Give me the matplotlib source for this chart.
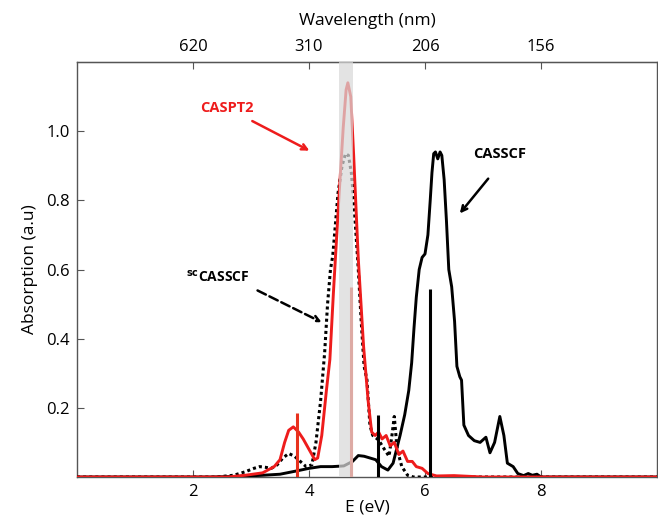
import numpy as np
import matplotlib
import matplotlib.pyplot as plt

matplotlib.use('Agg')
plt.rcParams['font.family'] = ['Open Sans', 'DejaVu Sans']

# CASSCF spectrum (black solid)
casscf_e = [0, 2.3, 2.8, 3.2, 3.5, 3.8, 4.0, 4.2, 4.4, 4.6, 4.75, 4.85, 4.95, 5.05,
            5.15, 5.25, 5.36, 5.45, 5.57, 5.65, 5.72, 5.77, 5.81, 5.85, 5.9, 5.95, 6.0, 6.05,
            6.09, 6.12, 6.15, 6.18, 6.22, 6.26, 6.29, 6.33, 6.37, 6.41, 6.46, 6.51, 6.55,
            6.6, 6.63, 6.67, 6.75, 6.85, 6.95, 7.05, 7.12, 7.2, 7.29, 7.36, 7.42, 7.52,
            7.6, 7.7, 7.78, 7.85, 7.93, 8.0, 10]
casscf_a = [0, 0, 0.002, 0.005, 0.008, 0.018, 0.025, 0.03, 0.03, 0.032, 0.045, 0.062, 0.06, 0.055,
            0.05, 0.03, 0.02, 0.04, 0.12, 0.18, 0.25, 0.33, 0.43, 0.52, 0.6, 0.635, 0.645, 0.7,
            0.8, 0.88, 0.935, 0.94, 0.92, 0.94, 0.93, 0.86, 0.74, 0.6, 0.55, 0.45, 0.32,
            0.29, 0.28, 0.15, 0.12, 0.105, 0.1, 0.115, 0.07, 0.1, 0.175, 0.12, 0.04, 0.03,
            0.01, 0.004, 0.01, 0.005, 0.008, 0, 0]

# CASPT2 spectrum (red)
caspt2_e = [0, 2.6, 2.9, 3.2, 3.4, 3.5, 3.58, 3.65, 3.73, 3.82, 3.9, 4.0, 4.1, 4.15,
            4.22, 4.3, 4.36, 4.42, 4.52, 4.59, 4.64, 4.67, 4.72, 4.77, 4.85, 4.94, 5.02,
            5.08, 5.14, 5.2, 5.26, 5.33, 5.4, 5.47, 5.55, 5.62, 5.7, 5.78, 5.85, 5.95,
            6.05, 6.2, 6.5, 7, 10]
caspt2_a = [0, 0, 0.005, 0.012, 0.03, 0.05, 0.1, 0.135, 0.145, 0.13, 0.11, 0.08, 0.05, 0.055,
            0.12, 0.25, 0.34, 0.53, 0.82, 1.01, 1.12, 1.14, 1.1, 0.93, 0.63, 0.38, 0.22,
            0.13, 0.12, 0.13, 0.11, 0.12, 0.09, 0.1, 0.065, 0.075, 0.045, 0.045, 0.03, 0.025,
            0.01, 0.003, 0.004, 0, 0]

# scCASSCF spectrum (black dotted)
sc_e = [0, 2.4, 2.7, 2.9, 3.05, 3.15, 3.25, 3.35, 3.45, 3.55, 3.65, 3.75, 3.85, 3.95,
        4.05, 4.12, 4.2, 4.27, 4.32, 4.37, 4.41, 4.45, 4.5, 4.57, 4.63, 4.68, 4.73, 4.78,
        4.85, 4.9, 4.95, 5.0, 5.05, 5.1, 5.2, 5.3, 5.38, 5.43, 5.47, 5.52, 5.6, 5.7, 5.8, 10]
sc_a = [0, 0, 0.005, 0.015, 0.025, 0.03, 0.028, 0.025, 0.035, 0.055, 0.068, 0.06, 0.045, 0.03,
        0.035, 0.1, 0.22, 0.36, 0.5, 0.6, 0.64, 0.72, 0.82, 0.9, 0.935, 0.93, 0.88, 0.78,
        0.6, 0.45, 0.32, 0.28, 0.15, 0.12, 0.107, 0.08, 0.06, 0.12, 0.175, 0.08, 0.03, 0.005, 0, 0]

# oscillator sticks
red_sticks_e = [3.79, 4.72]
red_sticks_h = [0.185, 0.55]
black_sticks_e = [5.19, 6.09]
black_sticks_h = [0.18, 0.545]

band = (4.52, 4.76)

top_ticks = [2, 4, 6, 8]
top_labels = ['620', '310', '206', '156']

red = '#ee1c1c'

fig = plt.figure(figsize=(6.58, 5.2), dpi=100)
ax = fig.add_axes([0.117, 0.0827, 0.8815, 0.798])

ax.plot(casscf_e, casscf_a, color='black', lw=2.1, zorder=3)
ax.plot(sc_e, sc_a, color='black', lw=2.2, ls=(0, (1, 1)), dash_capstyle='butt', zorder=3)
ax.plot(caspt2_e, caspt2_a, color=red, lw=2.1, zorder=4)
ax.vlines(red_sticks_e, 0, red_sticks_h, color='#e8321e', lw=2.2, zorder=4)
ax.vlines(black_sticks_e, 0, black_sticks_h, color='black', lw=2.2, zorder=4)
ax.axvspan(band[0], band[1], color='#d9d9d9', alpha=0.72, lw=0, zorder=5)

ax.set_xlim(0, 10)
ax.set_ylim(0, 1.2)
ax.set_xticks([2, 4, 6, 8])
ax.set_yticks([0.2, 0.4, 0.6, 0.8, 1.0])
ax.set_yticklabels(['0.2', '0.4', '0.6', '0.8', '1.0'])
ax.tick_params(direction='in', length=5, width=0.8, color='#555555', labelsize=12, pad=5)
for s in ax.spines.values():
    s.set_color('#555555')
    s.set_linewidth(1.0)

ax.set_xlabel('E (eV)', fontsize=12.5, labelpad=0)
ax.set_ylabel('Absorption (a.u)', fontsize=12.5, labelpad=6)

top = ax.secondary_xaxis('top')
top.set_xticks(top_ticks)
top.set_xticklabels(top_labels)
top.tick_params(direction='in', length=5, width=0.8, color='#555555', labelsize=12, pad=5)
top.set_xlabel('Wavelength (nm)', fontsize=12.5, labelpad=10)

ax.text(2.59, 1.068, 'CASPT2', color=red, fontsize=10.5, fontweight='bold',
        ha='center', va='center')
ax.annotate('', xy=(4.05, 0.94), xytext=(2.98, 1.033),
            arrowprops=dict(arrowstyle='->', color=red, lw=1.8))

ax.text(7.29, 0.935, 'CASSCF', color='black', fontsize=10.5, fontweight='bold',
        ha='center', va='center')
ax.annotate('', xy=(6.57, 0.756), xytext=(7.12, 0.869),
            arrowprops=dict(arrowstyle='->', color='black', lw=1.8))

ax.text(2.97, 0.58, r'$^{\mathbf{sc}}$CASSCF', color='black', fontsize=10,
        fontweight='bold', ha='right', va='center')
ax.annotate('', xy=(4.26, 0.444), xytext=(3.07, 0.543),
            arrowprops=dict(arrowstyle='->', color='black', lw=1.8, ls='--'))

fig.savefig('out.png', dpi=100)
